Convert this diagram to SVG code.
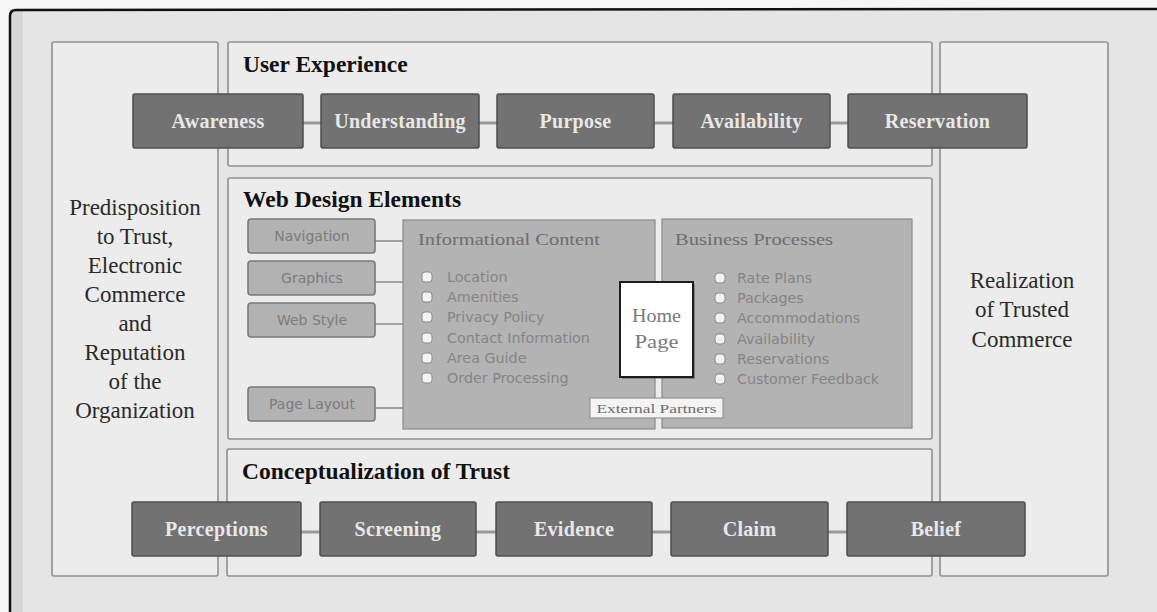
<svg xmlns="http://www.w3.org/2000/svg" width="1157" height="612" viewBox="0 0 1157 612">
  <style>
    .panel { fill: #ececec; stroke: #8f8f8f; stroke-width: 1.6; }
    .title { font-family: "Liberation Serif", "Times New Roman", serif; font-weight: bold; font-size: 23.5px; fill: #111; }
    .side { font-family: "Liberation Serif", "Times New Roman", serif; font-size: 23px; fill: #2a2a2a; text-anchor: middle; }
    .step rect { fill: #727272; stroke: #4d4d4d; stroke-width: 1.5; }
    .step text { font-family: "Liberation Serif", "Times New Roman", serif; font-weight: bold; font-size: 20px; fill: #e8e8e8; text-anchor: middle; letter-spacing: 0.3px; }
    .elem rect { fill: #b2b2b2; stroke: #7a7a7a; stroke-width: 1.6; }
    .elem text { font-family: "DejaVu Sans", "Liberation Sans", sans-serif; font-size: 14px; fill: #7c7c7c; text-anchor: middle; }
    .area { fill: #b3b3b3; stroke: #8a8a8a; stroke-width: 1.2; }
    .area-title { font-family: "Liberation Serif", "Times New Roman", serif; font-size: 17px; fill: #6e6e6e; }
    .item { font-family: "DejaVu Sans", "Liberation Sans", sans-serif; font-size: 14.3px; fill: #858585; }
    .box { fill: #f4f4f4; stroke: #8a8a8a; stroke-width: 1; }
    .hp { font-family: "Liberation Serif", "Times New Roman", serif; font-size: 18px; fill: #7a7a7a; text-anchor: middle; }
    .link { stroke: #9a9a9a; stroke-width: 3; fill: none; }
    .tie { stroke: #7a7a7a; stroke-width: 1.3; fill: none; }
  </style>

  <!-- page background and outer frame -->
  <rect x="0" y="0" width="1157" height="612" fill="#f6f6f6"/>
  <rect x="10" y="10" width="1160" height="610" fill="#e5e5e5"/>
  <rect x="11" y="11" width="12" height="601" fill="#d6d6d6"/>
  <path d="M10 612 L10 16 Q10 10 16 10 L1157 9" fill="none" stroke="#111" stroke-width="2.5"/>

  <!-- panels -->
  <g id="panel-predisposition">
    <rect class="panel" x="52" y="42" width="166" height="534" rx="2"/>
    <text class="side" x="135" y="215">Predisposition</text>
    <text class="side" x="135" y="244">to Trust,</text>
    <text class="side" x="135" y="273">Electronic</text>
    <text class="side" x="135" y="302">Commerce</text>
    <text class="side" x="135" y="331">and</text>
    <text class="side" x="135" y="360">Reputation</text>
    <text class="side" x="135" y="389">of the</text>
    <text class="side" x="135" y="418">Organization</text>
  </g>
  <g id="panel-realization">
    <rect class="panel" x="940" y="42" width="168" height="534" rx="2"/>
    <text class="side" x="1022" y="288">Realization</text>
    <text class="side" x="1022" y="317">of Trusted</text>
    <text class="side" x="1022" y="347">Commerce</text>
  </g>
  <g id="panel-user-experience">
    <rect class="panel" x="228" y="42" width="704" height="124" rx="2"/>
    <text class="title" x="243" y="72">User Experience</text>
  </g>
  <g id="panel-web-design">
    <rect class="panel" x="228" y="178" width="704" height="261" rx="2"/>
    <text class="title" x="243" y="207">Web Design Elements</text>
  </g>
  <g id="panel-trust">
    <rect class="panel" x="227" y="449" width="705" height="127" rx="2"/>
    <text class="title" x="242" y="479">Conceptualization of Trust</text>
  </g>

  <!-- connectors -->
  <g id="connectors">
    <line class="link" x1="303" y1="123" x2="321" y2="123"/>
    <line class="link" x1="479" y1="123" x2="497" y2="123"/>
    <line class="link" x1="654" y1="123" x2="673" y2="123"/>
    <line class="link" x1="830" y1="123" x2="848" y2="123"/>
    <line class="link" x1="301" y1="532" x2="320" y2="532"/>
    <line class="link" x1="476" y1="532" x2="496" y2="532"/>
    <line class="link" x1="652" y1="532" x2="671" y2="532"/>
    <line class="link" x1="828" y1="532" x2="847" y2="532"/>
    <line class="tie" x1="375" y1="241" x2="403" y2="241"/>
    <line class="tie" x1="375" y1="282" x2="403" y2="282"/>
    <line class="tie" x1="375" y1="324" x2="403" y2="324"/>
    <line class="tie" x1="375" y1="408" x2="403" y2="408"/>
  </g>

  <!-- user experience steps -->
  <g id="awareness" class="step"><rect x="133" y="94" width="170" height="54" rx="2"/><text x="218" y="128">Awareness</text></g>
  <g id="understanding" class="step"><rect x="321" y="94" width="158" height="54" rx="2"/><text x="400" y="128">Understanding</text></g>
  <g id="purpose" class="step"><rect x="497" y="94" width="157" height="54" rx="2"/><text x="575.5" y="128">Purpose</text></g>
  <g id="availability" class="step"><rect x="673" y="94" width="157" height="54" rx="2"/><text x="751.5" y="128">Availability</text></g>
  <g id="reservation" class="step"><rect x="848" y="94" width="179" height="54" rx="2"/><text x="937.5" y="128">Reservation</text></g>

  <!-- trust steps -->
  <g id="perceptions" class="step"><rect x="132" y="502" width="169" height="54" rx="2"/><text x="216.5" y="536">Perceptions</text></g>
  <g id="screening" class="step"><rect x="320" y="502" width="156" height="54" rx="2"/><text x="398" y="536">Screening</text></g>
  <g id="evidence" class="step"><rect x="496" y="502" width="156" height="54" rx="2"/><text x="574" y="536">Evidence</text></g>
  <g id="claim" class="step"><rect x="671" y="502" width="157" height="54" rx="2"/><text x="749.5" y="536">Claim</text></g>
  <g id="belief" class="step"><rect x="847" y="502" width="178" height="54" rx="2"/><text x="936" y="536">Belief</text></g>

  <!-- web design elements -->
  <g id="navigation" class="elem"><rect x="248" y="219" width="127" height="34" rx="3"/><text x="312" y="241">Navigation</text></g>
  <g id="graphics" class="elem"><rect x="248" y="261" width="127" height="34" rx="3"/><text x="312" y="283">Graphics</text></g>
  <g id="web-style" class="elem"><rect x="248" y="303" width="127" height="34" rx="3"/><text x="312" y="325">Web Style</text></g>
  <g id="page-layout" class="elem"><rect x="248" y="387" width="127" height="34" rx="3"/><text x="312" y="409">Page Layout</text></g>

  <g id="informational-content">
    <rect class="area" x="403" y="220" width="252" height="209"/>
    <text class="area-title" x="418" y="245" textLength="182" lengthAdjust="spacingAndGlyphs">Informational Content</text>
    <g fill="#f2f2f2" stroke="#8a8a8a" stroke-width="1">
      <rect x="422" y="272" width="10" height="10" rx="3"/>
      <rect x="422" y="292" width="10" height="10" rx="3"/>
      <rect x="422" y="312" width="10" height="10" rx="3"/>
      <rect x="422" y="333" width="10" height="10" rx="3"/>
      <rect x="422" y="353" width="10" height="10" rx="3"/>
      <rect x="422" y="373" width="10" height="10" rx="3"/>
    </g>
    <text class="item" x="447" y="282">Location</text>
    <text class="item" x="447" y="302">Amenities</text>
    <text class="item" x="447" y="322">Privacy Policy</text>
    <text class="item" x="447" y="343">Contact Information</text>
    <text class="item" x="447" y="363">Area Guide</text>
    <text class="item" x="447" y="383">Order Processing</text>
  </g>

  <g id="business-processes">
    <rect class="area" x="662" y="219" width="250" height="209"/>
    <text class="area-title" x="675" y="245" textLength="158" lengthAdjust="spacingAndGlyphs">Business Processes</text>
    <g fill="#f2f2f2" stroke="#8a8a8a" stroke-width="1">
      <rect x="715" y="273" width="10" height="10" rx="3.5"/>
      <rect x="715" y="293" width="10" height="10" rx="3.5"/>
      <rect x="715" y="313" width="10" height="10" rx="3.5"/>
      <rect x="715" y="334" width="10" height="10" rx="3.5"/>
      <rect x="715" y="354" width="10" height="10" rx="3.5"/>
      <rect x="715" y="374" width="10" height="10" rx="3.5"/>
    </g>
    <text class="item" x="737" y="283">Rate Plans</text>
    <text class="item" x="737" y="303">Packages</text>
    <text class="item" x="737" y="323">Accommodations</text>
    <text class="item" x="737" y="344">Availability</text>
    <text class="item" x="737" y="364">Reservations</text>
    <text class="item" x="737" y="384">Customer Feedback</text>
  </g>

  <g id="home-page">
    <rect x="622" y="284" width="73" height="95" fill="#555" opacity="0.5"/>
    <rect x="620" y="282" width="73" height="95" fill="#ffffff" stroke="#1e1e1e" stroke-width="2"/>
    <text class="hp" x="656.5" y="322" textLength="49" lengthAdjust="spacingAndGlyphs">Home</text>
    <text class="hp" x="656.5" y="348" textLength="44" lengthAdjust="spacingAndGlyphs">Page</text>
  </g>

  <g id="external-partners">
    <rect class="box" x="590" y="398" width="133" height="20"/>
    <text x="656.5" y="413" font-family="Liberation Serif, Times New Roman, serif" font-size="13px" fill="#6a6a6a" text-anchor="middle" textLength="120" lengthAdjust="spacingAndGlyphs">External Partners</text>
  </g>
</svg>
